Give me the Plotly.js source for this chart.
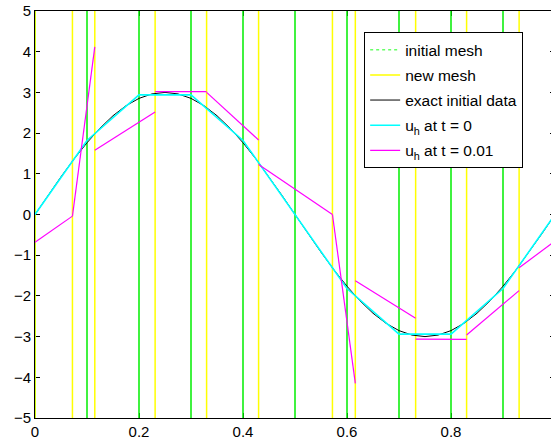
<!DOCTYPE html>
<html>
<head>
<meta charset="utf-8">
<script src="https://cdn.plot.ly/plotly-3.0.1.min.js"></script>
<style>
html, body { margin: 0; padding: 0; overflow: hidden; background: #fff; }
#chart { width: 560px; height: 443px; }
</style>
</head>
<body>
<div id="chart"></div>
<script>
// initial (uniform) mesh nodes
const initialMesh = [0, 0.1, 0.2, 0.3, 0.4, 0.5, 0.6, 0.7, 0.8, 0.9, 1.0];
// adapted (new) mesh nodes
const newMesh = [0, 0.072, 0.115, 0.231, 0.330, 0.430, 0.572, 0.616, 0.732, 0.830, 0.931, 1.0];

// exact initial data, sampled
const exactX = [0, 0.025, 0.05, 0.075, 0.1, 0.125, 0.15, 0.175, 0.2, 0.225, 0.25, 0.275, 0.3, 0.325, 0.35, 0.375, 0.4, 0.425, 0.45, 0.475, 0.5,
  0.525, 0.55, 0.575, 0.6, 0.625, 0.65, 0.675, 0.7, 0.725, 0.75, 0.775, 0.8, 0.825, 0.85, 0.875, 0.9, 0.925, 0.95, 0.975, 1.0];
const exactY = [0, 0.469, 0.927, 1.362, 1.763, 2.121, 2.427, 2.673, 2.853, 2.963, 3.0, 2.963, 2.853, 2.673, 2.427, 2.121, 1.763, 1.362, 0.927, 0.469, 0,
  -0.469, -0.927, -1.362, -1.763, -2.121, -2.427, -2.673, -2.853, -2.963, -3.0, -2.963, -2.853, -2.673, -2.427, -2.121, -1.763, -1.362, -0.927, -0.469, 0];

// u_h at t = 0 (nodal values on initial mesh)
const uh0 = [0, 1.82, 2.94, 2.94, 1.82, 0, -1.82, -2.94, -2.94, -1.82, 0];

// u_h at t = 0.01 (discontinuous, per element of new mesh: left / right values)
const uh1Left  = [-0.68, -0.04, 1.58, 3.02, 3.00, 1.23, 0.00, -1.63, -3.06, -2.96, -1.31];
const uh1Right = [-0.04,  4.12, 2.52, 3.02, 1.83, 0.00, -4.15, -2.55, -3.07, -1.87, -0.65];

// tick labels
const xTickVals = [0, 0.2, 0.4, 0.6, 0.8];
const xTickText = ['0', '0.2', '0.4', '0.6', '0.8'];

const yLo = -5, yHi = 5;

function vlines(xs) {
  const x = [], y = [];
  xs.forEach(v => { x.push(v, v, null); y.push(yLo, yHi, null); });
  return {x, y};
}
const g = vlines(initialMesh);
const yl = vlines(newMesh);

const mx = [], my = [];
for (let i = 0; i < uh1Left.length; i++) {
  mx.push(newMesh[i], newMesh[i + 1], null);
  my.push(uh1Left[i], uh1Right[i], null);
}

const traces = [
  {x: g.x, y: g.y, mode: 'lines', line: {color: '#00ee00', width: 1.5}, showlegend: false, hoverinfo: 'skip'},
  {x: [null], y: [null], mode: 'lines', name: 'initial mesh', legendgroup: 'a', line: {color: '#66ff66', width: 1.5, dash: 'dot'}},
  {x: yl.x, y: yl.y, mode: 'lines', name: 'new mesh', legendgroup: 'b', line: {color: '#ffff00', width: 1.5}},
  {x: exactX, y: exactY, mode: 'lines', name: 'exact initial data', legendgroup: 'c', line: {color: '#000000', width: 1}},
  {x: initialMesh, y: uh0, mode: 'lines', name: 'u<sub>h</sub> at t = 0', legendgroup: 'd', line: {color: '#00ffff', width: 1.6}},
  {x: mx, y: my, mode: 'lines', name: 'u<sub>h</sub> at t = 0.01', legendgroup: 'e', line: {color: '#ff00ff', width: 1.2}}
];

const layout = {
  width: 560, height: 443,
  margin: {l: 35, r: 5, t: 11, b: 25, pad: 0},
  paper_bgcolor: '#ffffff', plot_bgcolor: '#ffffff',
  font: {family: 'Liberation Sans, Arial, sans-serif', size: 15, color: '#000'},
  showlegend: true,
  legend: {
    x: 0.633, y: 0.948, xanchor: 'left', yanchor: 'top',
    bgcolor: '#ffffff', bordercolor: '#000000', borderwidth: 1,
    font: {size: 15.5, color: '#000'}, itemwidth: 30, tracegroupgap: 2
  },
  xaxis: {
    range: [0, 1], tickvals: xTickVals, ticktext: xTickText,
    showgrid: false, zeroline: false, showline: true, linecolor: '#000', linewidth: 1,
    mirror: 'allticks', ticks: 'inside', ticklen: 5, tickcolor: '#000', layer: 'below traces',
    tickfont: {size: 15}
  },
  yaxis: {
    range: [yLo, yHi], dtick: 1, tick0: 0,
    showgrid: false, zeroline: false, showline: true, linecolor: '#000', linewidth: 1,
    mirror: 'allticks', ticks: 'inside', ticklen: 5, tickcolor: '#000', layer: 'below traces',
    tickfont: {size: 15}
  }
};

Plotly.newPlot('chart', traces, layout, {displayModeBar: false, staticPlot: true});
</script>
</body>
</html>
